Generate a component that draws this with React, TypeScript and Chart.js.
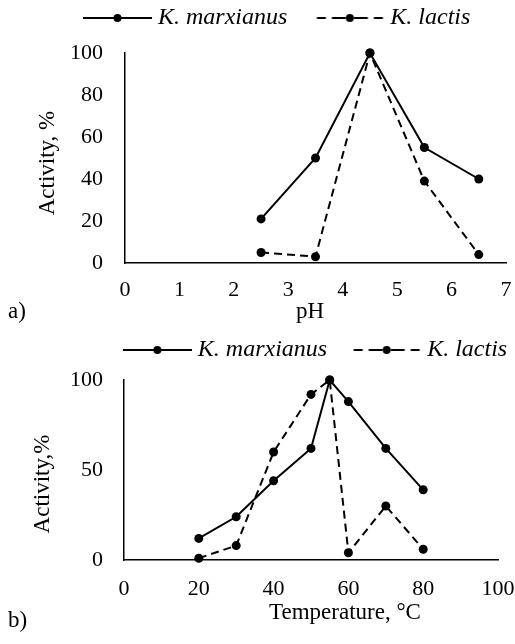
import React, { useEffect, useRef } from 'react';
import { Chart, registerables } from 'chart.js';

Chart.register(...registerables);

const FONT = '"Liberation Serif", "Times New Roman", Times, serif';

// ---------- data ----------
const seriesNames = ['K. marxianus', 'K. lactis'];

const phValues = [2.5, 3.5, 4.5, 5.5, 6.5];
const phMarxianus = [21, 50, 100, 55, 40];
const phLactis = [5, 3, 100, 39, 4];

const tempValues = [20, 30, 40, 50, 55, 60, 70, 80];
const tempMarxianus = [12, 24, 44, 62, 100, 88, 62, 39];
const tempLactis = [1, 8, 60, 92, 100, 4, 30, 6];

const phAxis = { min: 0, max: 7, step: 1 };
const tempAxis = { min: 0, max: 100, step: 20 };
const phActivityAxis = { min: 0, max: 100, step: 20 };
const tempActivityAxis = { min: 0, max: 100, step: 50 };

const titlesA = { x: 'pH', y: 'Activity, %' };
const titlesB = { x: 'Temperature, °C', y: 'Activity,%' };
const panelLabels = ['a)', 'b)'];

// ---------- helpers ----------
function legendSymbol(dashed: boolean, width: number, lineLen: number) {
  const c = document.createElement('canvas');
  c.width = width;
  c.height = 12;
  const ctx = c.getContext('2d')!;
  ctx.strokeStyle = '#000';
  ctx.fillStyle = '#000';
  ctx.lineWidth = 2;
  const cy = 6;
  const cx = width - lineLen / 2;
  ctx.beginPath();
  if (dashed) {
    const segs = [[-33, -24], [-18, -4], [4, 18], [24, 33]];
    segs.forEach(([a, b]) => {
      ctx.moveTo(cx + a, cy);
      ctx.lineTo(cx + b, cy);
    });
  } else {
    ctx.moveTo(width - lineLen, cy);
    ctx.lineTo(width, cy);
  }
  ctx.stroke();
  ctx.beginPath();
  ctx.arc(cx, cy, 4, 0, Math.PI * 2);
  ctx.fill();
  return c;
}

const axisTitlesPlugin = {
  id: 'axisTitles',
  afterDraw(chart: any, _args: any, opts: any) {
    const { ctx, chartArea } = chart;
    ctx.save();
    ctx.fillStyle = '#000';
    ctx.font = `${opts.size}px ${FONT}`;
    ctx.textAlign = 'center';
    ctx.textBaseline = 'middle';
    ctx.fillText(
      opts.xText,
      (chartArea.left + chartArea.right) / 2 + opts.xDx,
      chartArea.bottom + opts.xDy
    );
    ctx.translate(opts.yX, (chartArea.top + chartArea.bottom) / 2 + opts.yDy);
    ctx.rotate(-Math.PI / 2);
    ctx.fillText(opts.yText, 0, 0);
    ctx.restore();
  },
};

// adds extra space between the legend row and the plot area
const legendGapPlugin = {
  id: 'legendGap',
  beforeLayout(chart: any, _args: any, opts: any) {
    const lg = chart.legend;
    if (lg && !lg._gapWrapped) {
      const orig = lg.fit;
      lg.fit = function () {
        orig.call(this);
        this.height += opts.extra || 0;
      };
      lg._gapWrapped = true;
    }
  },
};

type Params = {
  xs: number[];
  a: number[];
  b: number[];
  xAxis: { min: number; max: number; step: number };
  yAxis: { min: number; max: number; step: number };
  titles: { x: string; y: string };
  pad: { left: number; right: number; top: number; bottom: number };
  legendAlign: string;
  legendPad: number;
  legendGap: number;
  boxW: number;
  symW: number;
  yAxisW: number;
  plotRightGap: number;
  xAxisH: number;
  yTickPad: number;
  xTickPad: number;
  tpos: { xDx: number; xDy: number; yX: number; yDy: number };
};

function makeConfig(p: Params): any {
  const symbols = [legendSymbol(false, p.symW, 69), legendSymbol(true, p.symW, 69)];
  const mk = (label: string, vals: number[], dashed: boolean) => ({
    label,
    data: p.xs.map((x, i) => ({ x, y: vals[i] })),
    borderColor: '#000',
    backgroundColor: '#000',
    pointBackgroundColor: '#000',
    pointBorderColor: '#000',
    pointRadius: 4.5,
    pointBorderWidth: 0,
    borderWidth: 2,
    borderDash: dashed ? [8, 5] : [],
    tension: 0,
    clip: false,
  });
  const tickFont = { family: FONT, size: 22 };
  return {
    type: 'line',
    data: {
      datasets: [mk(seriesNames[0], p.a, false), mk(seriesNames[1], p.b, true)],
    },
    options: {
      animation: false,
      responsive: false,
      maintainAspectRatio: false,
      devicePixelRatio: 1,
      layout: { padding: p.pad },
      plugins: {
        tooltip: { enabled: false },
        legend: {
          display: true,
          position: 'top',
          align: p.legendAlign,
          labels: {
            usePointStyle: true,
            pointStyleWidth: p.boxW,
            padding: p.legendPad,
            color: '#000',
            font: { family: FONT, size: 24, style: 'italic' },
            generateLabels: (chart: any) => {
              const items = (Chart.defaults.plugins.legend.labels as any).generateLabels(chart);
              return items.map((it: any, i: number) => ({
                ...it,
                pointStyle: symbols[i],
                fontColor: '#000',
              }));
            },
          },
        },
        legendGap: { extra: p.legendGap },
        axisTitles: {
          size: 23,
          xText: p.titles.x,
          yText: p.titles.y,
          ...p.tpos,
        },
      },
      scales: {
        x: {
          type: 'linear',
          min: p.xAxis.min,
          max: p.xAxis.max,
          grid: { display: false, drawTicks: false },
          border: { display: true, color: '#000', width: 1.5 },
          ticks: {
            stepSize: p.xAxis.step,
            color: '#000',
            padding: p.xTickPad,
            font: tickFont,
            maxRotation: 0,
            autoSkip: false,
          },
          afterFit: (s: any) => {
            s.height = p.xAxisH;
            s.paddingRight = p.plotRightGap;
          },
        },
        y: {
          type: 'linear',
          min: p.yAxis.min,
          max: p.yAxis.max,
          grid: { display: false, drawTicks: false },
          border: { display: true, color: '#000', width: 1.5 },
          ticks: {
            stepSize: p.yAxis.step,
            color: '#000',
            padding: p.yTickPad,
            font: tickFont,
          },
          afterFit: (s: any) => {
            s.width = p.yAxisW;
          },
        },
      },
    },
    plugins: [legendGapPlugin, axisTitlesPlugin],
  };
}

function ChartCanvas({
  params,
  top,
  width,
  height,
}: {
  params: Params;
  top: number;
  width: number;
  height: number;
}) {
  const ref = useRef<HTMLCanvasElement>(null);
  useEffect(() => {
    const chart = new Chart(ref.current!, makeConfig(params));
    return () => chart.destroy();
  }, []);
  return (
    <canvas
      ref={ref}
      width={width}
      height={height}
      style={{ position: 'absolute', left: 0, top, width, height, display: 'block' }}
    />
  );
}

// canvas A: page y = canvas y - 17, width 515
const paramsA: Params = {
  xs: phValues,
  a: phMarxianus,
  b: phLactis,
  xAxis: phAxis,
  yAxis: phActivityAxis,
  titles: titlesA,
  pad: { left: 55, right: 0, top: 0, bottom: 0 },
  legendAlign: 'start',
  legendPad: 23,
  legendGap: 13,
  boxW: 68,
  symW: 80,
  yAxisW: 70,
  plotRightGap: 9,
  xAxisH: 80,
  yTickPad: 22,
  xTickPad: 14,
  tpos: { xDx: -5.5, xDy: 49, yX: 48, yDy: 5 },
};

// canvas B: page y = canvas y + 320, width 563 (clipped at 515)
const paramsB: Params = {
  xs: tempValues,
  a: tempMarxianus,
  b: tempLactis,
  xAxis: tempAxis,
  yAxis: tempActivityAxis,
  titles: titlesB,
  pad: { left: 60, right: 0, top: 0, bottom: 0 },
  legendAlign: 'center',
  legendPad: 18,
  legendGap: 8,
  boxW: 70,
  symW: 82,
  yAxisW: 64,
  plotRightGap: 65,
  xAxisH: 84,
  yTickPad: 21,
  xTickPad: 16,
  tpos: { xDx: 34, xDy: 53, yX: 43, yDy: 14 },
};

const labelStyle: React.CSSProperties = {
  position: 'absolute',
  left: 8,
  fontFamily: FONT,
  fontSize: 23,
  lineHeight: '23px',
  color: '#000',
  whiteSpace: 'nowrap',
};

export default function App() {
  return (
    <div
      style={{
        position: 'absolute',
        left: 0,
        top: 0,
        width: 515,
        height: 644,
        overflow: 'hidden',
        background: '#fff',
      }}
    >
      <ChartCanvas params={paramsA} top={-17} width={515} height={360} />
      <ChartCanvas params={paramsB} top={320} width={563} height={324} />
      <div style={{ ...labelStyle, top: 299 }}>{panelLabels[0]}</div>
      <div style={{ ...labelStyle, top: 608 }}>{panelLabels[1]}</div>
    </div>
  );
}
